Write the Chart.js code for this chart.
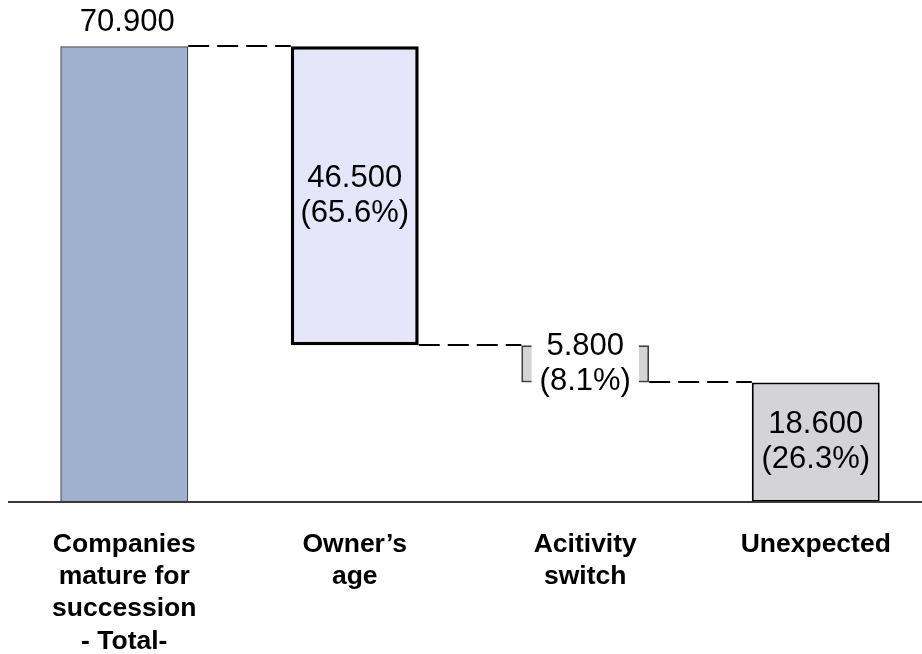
<!DOCTYPE html>
<html>
<head>
<meta charset="utf-8">
<script src="https://cdn.jsdelivr.net/npm/chart.js@4.4.1/dist/chart.umd.min.js"></script>
<style>
  html, body { margin: 0; padding: 0; background: #fff; overflow: hidden; }
  #wrap { width: 931px; height: 654px; }
</style>
</head>
<body>
<div id="wrap"><canvas id="c" width="931" height="654"></canvas></div>
<script>
// Succession waterfall: total, two reductions, remainder
const categories = [
  ['Companies', 'mature for', 'succession', '- Total-'],
  ['Owner\u2019s', 'age'],
  ['Acitivity', 'switch'],
  ['Unexpected']
];
const counts = [70900, 46500, 5800, 18600];
const shares = [null, 65.6, 8.1, 26.3];

// Floating ranges: first and last bars stand on zero, the middle ones step down
const ranges = [];
const levels = [];
let level = 0;
counts.forEach((v, i) => {
  if (i === 0) { ranges.push([0, v]); level = v; }
  else if (i === counts.length - 1) { ranges.push([0, v]); level = v; }
  else { ranges.push([level - v, level]); level -= v; }
  levels.push(level);
});

const FONT = '"Liberation Sans", Arial, Helvetica, sans-serif';
const fmt = v => String(v).replace(/\B(?=(\d{3})+(?!\d))/g, '.');

const waterfallDecor = {
  id: 'waterfallDecor',
  afterDatasetsDraw(chart) {
    const ctx = chart.ctx;
    const bars = chart.getDatasetMeta(0).data;
    const ys = chart.scales.y;

    // dashed connectors between neighbouring bars
    ctx.save();
    ctx.strokeStyle = '#000';
    ctx.lineWidth = 2;
    ctx.setLineDash([21, 8]);
    for (let i = 0; i < bars.length - 1; i++) {
      const a = bars[i], b = bars[i + 1];
      const y = Math.round(ys.getPixelForValue(levels[i]));
      ctx.beginPath();
      ctx.moveTo(a.x + a.width / 2, y);
      ctx.lineTo(b.x - b.width / 2, y);
      ctx.stroke();
    }
    ctx.restore();

    // baseline
    const y0 = ys.getPixelForValue(0);
    ctx.save();
    ctx.strokeStyle = '#3a3a3a';
    ctx.lineWidth = 2;
    ctx.beginPath();
    ctx.moveTo(8, y0);
    ctx.lineTo(chart.width, y0);
    ctx.stroke();
    ctx.restore();

    // value labels
    ctx.save();
    ctx.font = '31px ' + FONT;
    ctx.fillStyle = '#000';
    ctx.textAlign = 'center';
    ctx.textBaseline = 'middle';
    const lh = 35;
    bars.forEach((bar, i) => {
      const top = Math.min(bar.y, bar.base);
      const bottom = Math.max(bar.y, bar.base);
      const valueText = fmt(counts[i]);
      if (shares[i] === null) {
        ctx.fillText(valueText, bar.x + 3, top - 24);
        return;
      }
      const shareText = '(' + shares[i].toFixed(1) + '%)';
      const cy = (top + bottom) / 2;
      if (bottom - top < 2 * lh) {
        const w = Math.max(ctx.measureText(valueText).width, ctx.measureText(shareText).width) + 16;
        ctx.fillStyle = '#fff';
        ctx.fillRect(bar.x - w / 2, cy - lh - 2, w, 2 * lh + 4);
        ctx.fillStyle = '#000';
      }
      ctx.fillText(valueText, bar.x, cy - lh / 2);
      ctx.fillText(shareText, bar.x, cy + lh / 2);
    });
    ctx.restore();
  }
};

new Chart(document.getElementById('c'), {
  type: 'bar',
  data: {
    labels: categories,
    datasets: [{
      data: ranges,
      backgroundColor: ['#9fb1cf', '#e6e6fb', '#d4d4d6', '#d4d4d6'],
      borderColor: ['#404858', '#000000', '#404040', '#000000'],
      borderWidth: [1.5, 3.5, 2, 2],
      borderSkipped: false,
      categoryPercentage: 1,
      barPercentage: 0.555
    }]
  },
  options: {
    responsive: false,
    animation: false,
    events: [],
    layout: { padding: { top: 20, left: 9, right: 0, bottom: 0 } },
    plugins: { legend: { display: false }, tooltip: { enabled: false } },
    scales: {
      x: {
        grid: { display: false, drawTicks: false },
        border: { display: false },
        ticks: {
          color: '#000',
          padding: 27,
          maxRotation: 0,
          autoSkip: false,
          font: { family: FONT, size: 26.5, weight: 'bold', lineHeight: 1.21 }
        },
        afterFit(scale) { scale.height = 152; }
      },
      y: { display: false, min: 0, max: 75000 }
    }
  },
  plugins: [waterfallDecor]
});
</script>
</body>
</html>
